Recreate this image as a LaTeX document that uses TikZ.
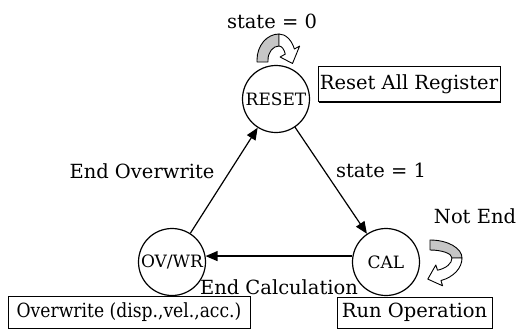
\documentclass[tikz,border=0pt]{standalone}
\usepackage{fontspec}
\setmainfont{DejaVu Serif}
\usetikzlibrary{arrows.meta,shadows}
\begin{document}
\begin{tikzpicture}[x=1pt,y=-1pt,
  state/.style={circle,draw,line width=1.2pt,minimum size=67pt,inner sep=0pt,font=\fontsize{17}{17}\selectfont},
  lbl/.style={inner sep=0pt,font=\fontsize{19.5}{19.5}\selectfont},
  box/.style={draw,line width=0.8pt,fill=white,inner sep=0pt,font=\fontsize{19.5}{19.5}\selectfont,
    drop shadow={shadow xshift=1.4pt,shadow yshift=-1.4pt,opacity=1,fill=black}},
  conn/.style={line width=1.2pt,-{Triangle[length=12pt,width=10pt]}},
  band/.style={line width=0.9pt,line join=round}]
\useasboundingbox (0,0) rectangle (517,335);
\node[state] (reset) at (276,99) {RESET};
\node[state] (cal) at (386,262) {CAL};
\node[state] (ovwr) at (172,262) {OV/WR};
\node[box,minimum width=182pt,minimum height=35pt] (rbox) at (409,84) {Reset All Register};
\node[box,minimum width=242pt,minimum height=32pt] (obox) at (129,312) {\scalebox{0.88}[1]{Overwrite (disp.,vel.,acc.)}};
\node[box,minimum width=155pt,minimum height=31pt] (cbox) at (414.5,312.5) {Run Operation};
\draw[conn] (ovwr) -- (reset);
\draw[conn] (reset) -- (cal);
\draw[conn] (cal.170) -- (ovwr.10);
\node[lbl] (l0) at (272,21) {state = 0};
\node[lbl] (l1) at (381,170) {state = 1};
\node[lbl] (leo) at (142,171) {End Overwrite};
\node[lbl] (lne) at (475,216) {Not End};
\node[lbl] (lec) at (279,287) {End Calculation};
% loop above RESET
\draw[band,fill=gray!45] (257,62) -- (257,60) arc[start angle=180,end angle=270,x radius=22,y radius=26]
  -- (279,46) arc[start angle=270,end angle=180,x radius=11,y radius=14] -- (268,62) -- cycle;
\draw[band,fill=white] (279,34) arc[start angle=270,end angle=335,x radius=17,y radius=26]
  -- (299.6,46.1) -- (292.5,63.5) -- (280.1,57) -- (285.3,54.1)
  arc[start angle=335,end angle=270,x radius=7,y radius=14] -- cycle;
% loop right of CAL
\draw[band,fill=gray!45] (430,240) arc[start angle=270,end angle=360,x radius=32,y radius=18]
  -- (452,258) arc[start angle=360,end angle=270,x radius=22,y radius=8] -- cycle;
\draw[band,fill=white] (462,258) arc[start angle=0,end angle=70,x radius=32,y radius=24]
  -- (442.6,285.8) -- (427.8,279.1) -- (435.8,265) -- (437.5,270.2)
  arc[start angle=70,end angle=0,x radius=22,y radius=13] -- cycle;
\end{tikzpicture}
\end{document}
